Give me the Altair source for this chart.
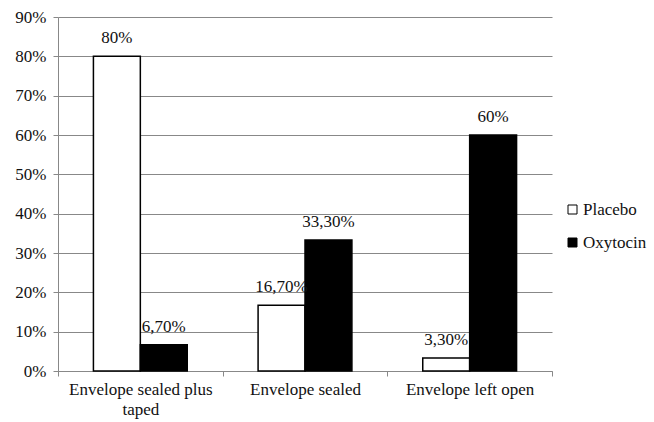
import altair as alt
import pandas as pd

categories = ["Envelope sealed plus taped", "Envelope sealed", "Envelope left open"]
groups = ["Placebo", "Oxytocin"]
placebo = [80.0, 16.7, 3.3]
oxytocin = [6.7, 33.3, 60.0]
placebo_labels = ["80%", "16,70%", "3,30%"]
oxytocin_labels = ["6,70%", "33,30%", "60%"]
y_ticks = [0, 10, 20, 30, 40, 50, 60, 70, 80, 90]

rows = []
for i, c in enumerate(categories):
    rows.append({"cat": c, "group": "Placebo", "value": placebo[i], "label": placebo_labels[i]})
    rows.append({"cat": c, "group": "Oxytocin", "value": oxytocin[i], "label": oxytocin_labels[i]})
df = pd.DataFrame(rows)

FONT = "Liberation Serif"

x = alt.X("cat:N", sort=categories, title=None,
          scale=alt.Scale(paddingInner=0, paddingOuter=0),
          axis=alt.Axis(labelAngle=0, tickBand="extent", labelFont=FONT, labelFontSize=17,
                        labelColor="#111", labelPadding=5, tickSize=5, tickColor="#888",
                        domainColor="#888", labelLimit=300,
                        labelExpr="datum.label == 'Envelope sealed plus taped' ? ['Envelope sealed plus', 'taped'] : datum.label",
                        labelLineHeight=20))
xo = alt.XOffset("group:N", sort=groups,
                 scale=alt.Scale(paddingInner=0, paddingOuter=0.755))
y = alt.Y("value:Q", title=None,
          scale=alt.Scale(domain=[0, 90], nice=False),
          axis=alt.Axis(values=y_ticks, labelExpr="datum.value + '%'", labelFont=FONT,
                        labelFontSize=17, labelColor="#111", labelPadding=7, tickSize=5,
                        tickColor="#888", domainColor="#888", gridColor="#888",
                        gridOpacity=1, labelOverlap=False, grid=True))

base = alt.Chart(df).encode(x=x, xOffset=xo, y=y)

bars = base.mark_bar(stroke="black", strokeWidth=1.5).encode(
    fill=alt.Fill("group:N", sort=groups,
                  scale=alt.Scale(domain=groups, range=["white", "black"]),
                  legend=alt.Legend(title=None, orient="none", legendX=506, legendY=184,
                                    symbolType="square", symbolSize=81,
                                    symbolStrokeColor="black", symbolStrokeWidth=1,
                                    labelFont=FONT, labelFontSize=17, labelColor="#111",
                                    rowPadding=15, labelOffset=2)),
)

text = base.mark_text(baseline="bottom", dy=-9, font=FONT, fontSize=17, color="#111").encode(
    text="label:N",
)

chart = (bars + text).properties(
    width=494, height=354,
    autosize=alt.AutoSizeParams(type="none"),
    padding={"left": 58, "top": 17, "right": 102, "bottom": 51},
    background="white",
).configure_view(stroke=None).configure_axisX(grid=False)

chart.save("out.html", embed_options={"renderer": "svg", "actions": False})
